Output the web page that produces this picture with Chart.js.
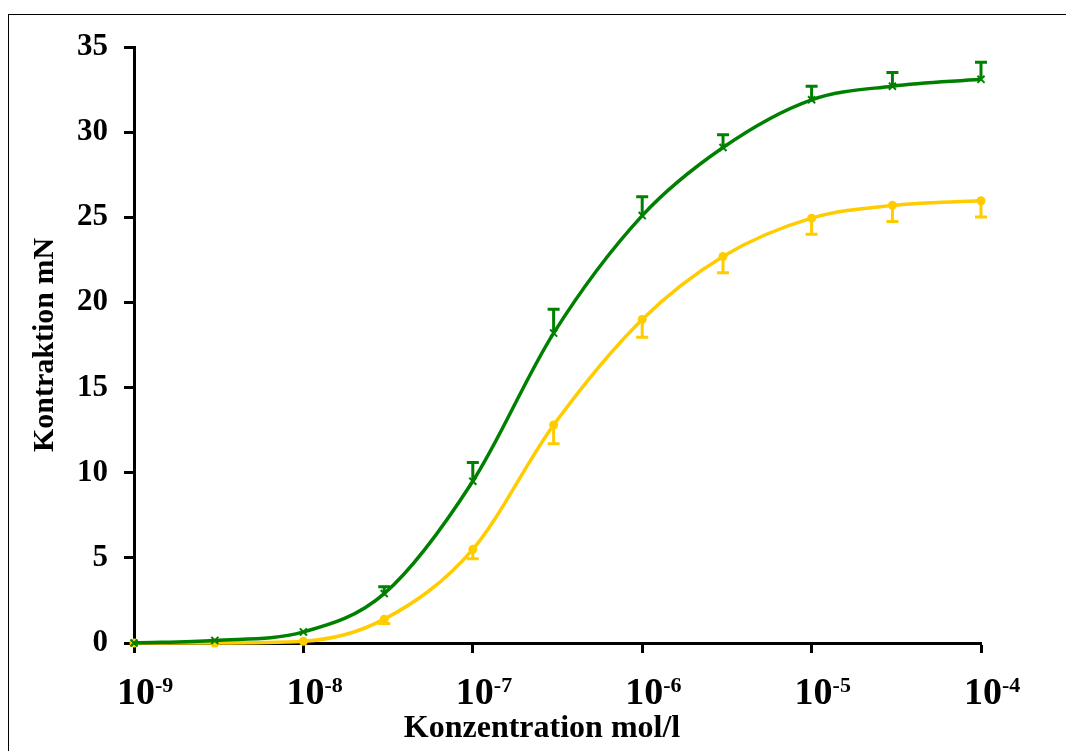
<!DOCTYPE html>
<html>
<head>
<meta charset="utf-8">
<title>Kontraktion</title>
<script src="https://cdn.jsdelivr.net/npm/chart.js@4.4.4/dist/chart.umd.min.js"></script>
<style>
  html, body { margin: 0; padding: 0; background: #fff; }
  #wrap { position: relative; width: 1066px; height: 751px; overflow: hidden; }
  #frame { position: absolute; left: 8px; top: 14px; right: -10px; bottom: -10px;
           border-top: 1.5px solid #000; border-left: 1.5px solid #000; pointer-events: none; }
  canvas { position: absolute; left: 0; top: 0; }
</style>
</head>
<body>
<div id="wrap">
  <canvas id="chart" width="1066" height="751"></canvas>
  <div id="frame"></div>
</div>
<script>
/* ── Data ─────────────────────────────────────────────────────────── */
const concentrations = [1e-9, 3e-9, 1e-8, 3e-8, 1e-7, 3e-7, 1e-6, 3e-6, 1e-5, 3e-5, 1e-4];
const greenValues    = [0, 0.15, 0.65, 2.9, 9.5, 18.2, 25.1, 29.1, 31.9, 32.7, 33.1];
const greenErrors    = [0, 0, 0, 0.4, 1.1, 1.4, 1.1, 0.75, 0.8, 0.8, 1.0];
const yellowValues   = [0, 0, 0.1, 1.4, 5.5, 12.8, 19.0, 22.7, 24.95, 25.7, 25.97];
const yellowErrors   = [0, 0, 0, 0.25, 0.55, 1.1, 1.05, 0.95, 0.95, 0.95, 0.95];
const xTickValues    = [1e-9, 1e-8, 1e-7, 1e-6, 1e-5, 1e-4];
const xTickExponents = ["-9", "-8", "-7", "-6", "-5", "-4"];

const GREEN  = "#008000";
const YELLOW = "#FFCC00";
const SERIF  = "'Liberation Serif', 'Times New Roman', serif";

/* ── Plugins ──────────────────────────────────────────────────────── */
// vertical error bars: green goes up, yellow goes down
const errorBars = {
  id: "errorBars",
  beforeDatasetsDraw(chart) {
    const { ctx, scales: { x, y } } = chart;
    chart.data.datasets.forEach(ds => {
      if (!ds.errors) return;
      ctx.save();
      ctx.strokeStyle = ds.borderColor;
      ctx.lineWidth = 3;
      ds.data.forEach((p, i) => {
        const err = ds.errors[i];
        if (!err) return;
        const px = x.getPixelForValue(p.x);
        const y0 = y.getPixelForValue(p.y);
        const y1 = y.getPixelForValue(p.y + ds.errDir * err);
        ctx.beginPath();
        ctx.moveTo(px, y0); ctx.lineTo(px, y1);
        ctx.moveTo(px - 6, y1); ctx.lineTo(px + 6, y1);
        ctx.stroke();
      });
      ctx.restore();
    });
  }
};

// decade labels with superscript exponents + x axis title
const xLabels = {
  id: "xLabels",
  afterDraw(chart) {
    const { ctx, scales: { x } } = chart;
    ctx.save();
    ctx.fillStyle = "#000";
    xTickValues.forEach((v, i) => {
      const px = x.getPixelForValue(v) + 2;
      ctx.font = "bold 38px " + SERIF;
      ctx.textAlign = "center";
      ctx.textBaseline = "alphabetic";
      const w = ctx.measureText("10").width;
      ctx.fillText("10", px, 704);
      ctx.font = "bold 22px " + SERIF;
      ctx.textAlign = "left";
      ctx.fillText(xTickExponents[i], px + w / 2, 692);
    });
    ctx.font = "bold 32px " + SERIF;
    ctx.textAlign = "center";
    ctx.fillText("Konzentration mol/l", 542, 737);
    ctx.restore();
  }
};

/* ── Chart ────────────────────────────────────────────────────────── */
new Chart(document.getElementById("chart"), {
  type: "line",
  data: {
    datasets: [
      {
        label: "grün",
        data: concentrations.map((c, i) => ({ x: c, y: greenValues[i] })),
        errors: greenErrors, errDir: 1,
        borderColor: GREEN, backgroundColor: GREEN,
        borderWidth: 3.5, cubicInterpolationMode: "monotone",
        pointStyle: "crossRot", pointRadius: 5, pointBorderWidth: 2,
        clip: false
      },
      {
        label: "gelb",
        data: concentrations.map((c, i) => ({ x: c, y: yellowValues[i] })),
        errors: yellowErrors, errDir: -1,
        borderColor: YELLOW, backgroundColor: YELLOW,
        borderWidth: 3.5, cubicInterpolationMode: "monotone",
        pointStyle: "circle", pointRadius: 4.5, pointBorderWidth: 0,
        clip: false
      }
    ]
  },
  options: {
    responsive: false,
    animation: false,
    layout: { padding: { left: 0, top: 47, right: 85, bottom: 0 } },
    plugins: { legend: { display: false }, tooltip: { enabled: false } },
    scales: {
      x: {
        type: "logarithmic",
        min: 1e-9, max: 1e-4,
        afterBuildTicks: s => { s.ticks = xTickValues.map(v => ({ value: v })); },
        afterFit: s => { s.height = 108; },
        ticks: { display: false },
        grid: { drawOnChartArea: false, drawTicks: true, tickLength: 10, tickWidth: 3, tickColor: "#000" },
        border: { display: true, color: "#000", width: 3 }
      },
      y: {
        min: 0, max: 35,
        afterFit: s => { s.width = 134; },
        ticks: { stepSize: 5, padding: 16, color: "#000", font: { family: SERIF, size: 31, weight: "bold" } },
        grid: { drawOnChartArea: false, drawTicks: true, tickLength: 10, tickWidth: 3, tickColor: "#000" },
        border: { display: true, color: "#000", width: 3 },
        title: {
          display: true, text: "Kontraktion mN", color: "#000",
          font: { family: SERIF, size: 30, weight: "bold" },
          padding: { top: 27, bottom: 0 }
        }
      }
    }
  },
  plugins: [errorBars, xLabels]
});
</script>
</body>
</html>
